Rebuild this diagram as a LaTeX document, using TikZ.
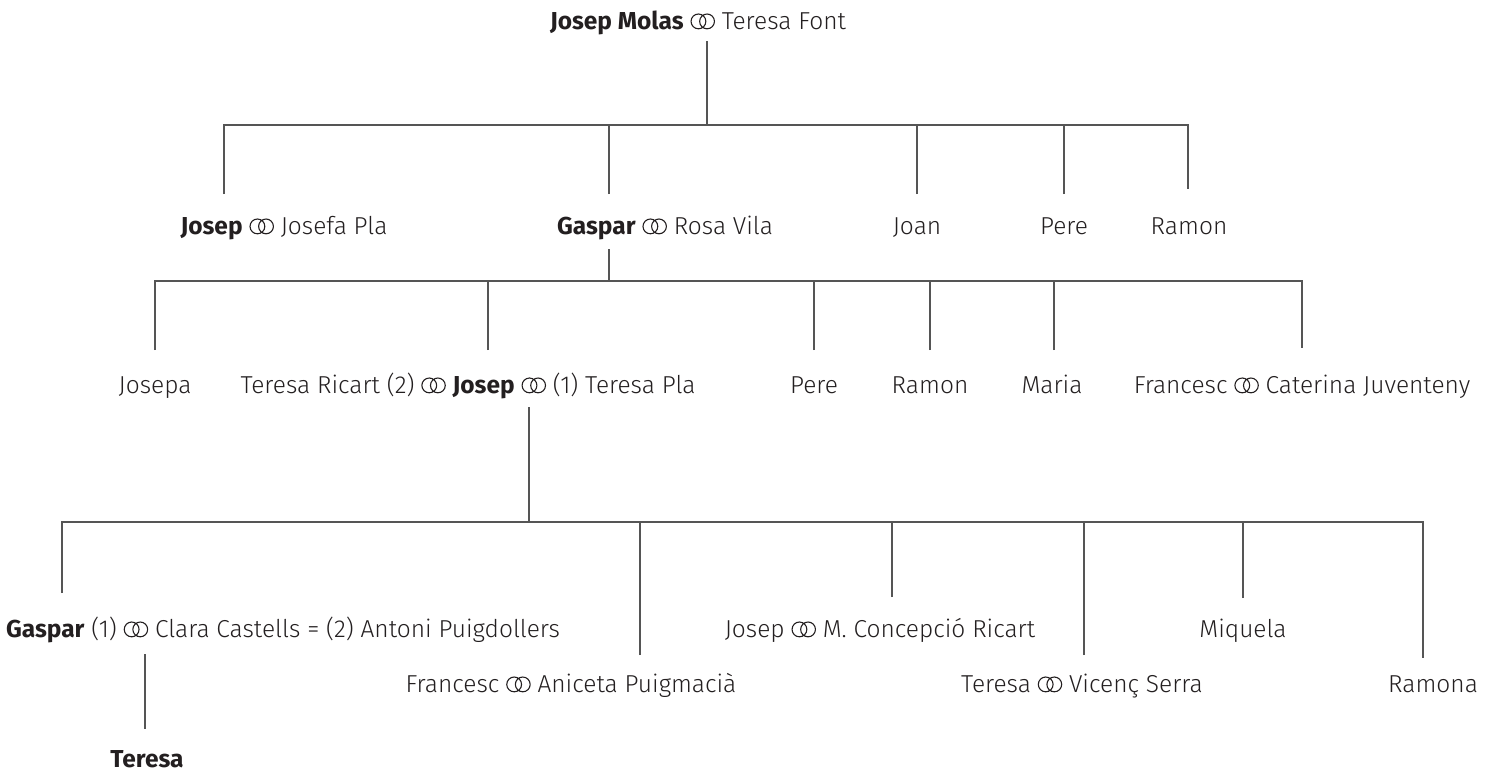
\documentclass[tikz,border=0pt]{standalone}
\usepackage{fontspec}
\setmainfont{Fira Sans}[UprightFont=* Light, BoldFont=* Bold]
\usepackage{tikz}
\usetikzlibrary{positioning}
\definecolor{txt}{HTML}{231F20}
\definecolor{ln}{HTML}{555555}
\newcommand{\mar}{\tikz[baseline=0pt,x=1cm,y=1cm]{\draw[txt,line width=1.1pt] (0pt,7.6pt) circle (7.4pt) (8.6pt,7.6pt) circle (7.4pt);}}

\begin{document}
\begin{tikzpicture}[x=1pt,y=-1pt,
  person/.style={anchor=base,inner sep=0pt,text=txt,font=\fontsize{24.5}{29}\selectfont},
  link/.style={draw=ln,line width=1.3pt}]
\useasboundingbox (0,0) rectangle (1495,772);

% generation 1
\node[person](molas) at (698,29) {\textbf{Josep Molas} \mar\ Teresa Font};
\coordinate (t0) at (707,41);
\coordinate (t1) at (707,125);

% generation 2
\node[person](josep1) at (284,234) {\textbf{Josep} \mar\ Josefa Pla};
\node[person](gaspar1) at (665,234) {\textbf{Gaspar} \mar\ Rosa Vila};
\node[person](joan1) at (917,234) {Joan};
\node[person](pere1) at (1064,234) {Pere};
\node[person](ramon1) at (1189,234) {Ramon};
\coordinate (a1) at (224,194);
\coordinate (a2) at (609,194);
\coordinate (a3) at (917,194);
\coordinate (a4) at (1064,194);
\coordinate (a5) at (1188,189);
\coordinate (g0) at (609,249);
\coordinate (g1) at (609,281);

% generation 3
\node[person](josepa2) at (155,393) {Josepa};
\node[person](josep2) at (468,393) {Teresa Ricart (2) \mar\ \textbf{Josep} \mar\ (1) Teresa Pla};
\node[person](pere2) at (814,393) {Pere};
\node[person](ramon2) at (930,393) {Ramon};
\node[person](maria2) at (1052,393) {Maria};
\node[person](francesc2) at (1302,393) {Francesc \mar\ Caterina Juventeny};
\coordinate (b1) at (155,350);
\coordinate (b2) at (488,350);
\coordinate (b3) at (814,350);
\coordinate (b4) at (930,350);
\coordinate (b5) at (1054,350);
\coordinate (b6) at (1302,348);
\coordinate (p0) at (529,407);
\coordinate (p1) at (529,522);

% generation 4
\node[person](gaspar3) at (283,637) {\textbf{Gaspar} (1) \mar\ Clara Castells = (2) Antoni Puigdollers};
\node[person](francesc3) at (571,692) {Francesc \mar\ Aniceta Puigmacià};
\node[person](josep3) at (880,637) {Josep \mar\ M. Concepció Ricart};
\node[person](teresa3) at (1082,692) {Teresa \mar\ Vicenç Serra};
\node[person](miquela3) at (1243,637) {Miquela};
\node[person](ramona3) at (1433,692) {Ramona};
\coordinate (c1) at (62,593);
\coordinate (c2) at (640,655);
\coordinate (c3) at (892,597);
\coordinate (c4) at (1084,655);
\coordinate (c5) at (1243,598);
\coordinate (c6) at (1423,658);
\coordinate (s0) at (145,654);
\coordinate (s1) at (145,729);

% generation 5
\node[person](teresa4) at (147,767) {\textbf{Teresa}};

\draw[link] (t0) -- (t1);
\draw[link] (a1) |- (t1) -| (a5);
\foreach \c in {a2,a3,a4} \draw[link] (\c) -- (\c |- t1);
\draw[link] (g0) -- (g1);
\draw[link] (b1) |- (g1) -| (b6);
\foreach \c in {b2,b3,b4,b5} \draw[link] (\c) -- (\c |- g1);
\draw[link] (p0) -- (p1);
\draw[link] (c1) |- (p1) -| (c6);
\foreach \c in {c2,c3,c4,c5} \draw[link] (\c) -- (\c |- p1);
\draw[link] (s0) -- (s1);

\end{tikzpicture}
\end{document}
